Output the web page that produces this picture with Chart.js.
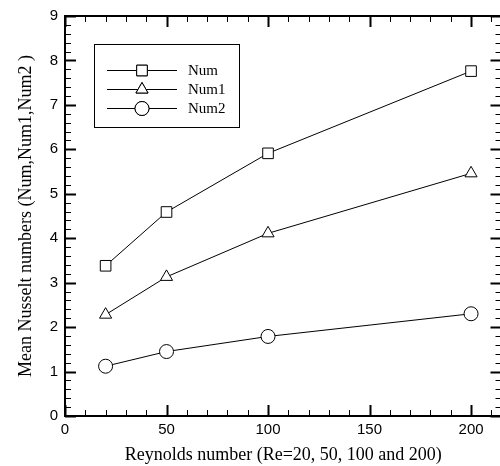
<!DOCTYPE html>
<html>
<head>
<meta charset="utf-8">
<script src="https://cdn.jsdelivr.net/npm/chart.js@4"></script>
<style>
  html, body { margin: 0; padding: 0; background: #fff; overflow: hidden; }
  #wrap { position: absolute; left: 0; top: 0; width: 510px; height: 466px; }
</style>
</head>
<body>
<div id="wrap"><canvas id="chart" width="510" height="466"></canvas></div>
<script>
// Données
const reynolds = [20, 50, 100, 200];
const num  = [3.38, 4.59, 5.91, 7.76];
const num1 = [2.28, 3.13, 4.11, 5.46];
const num2 = [1.12, 1.45, 1.79, 2.30];

const xTicks = [0, 50, 100, 150, 200];
const yTicks = [0, 1, 2, 3, 4, 5, 6, 7, 8, 9];

const seriesNames = ['Num', 'Num1', 'Num2'];
const seriesStyles = ['rect', 'triangle', 'circle'];

function makeDataset(label, values, style) {
    return {
        label: label,
        data: reynolds.map((x, i) => ({ x: x, y: values[i] })),
        borderColor: '#000',
        borderWidth: 1,
        pointStyle: style,
        pointRadius: style === 'rect' ? 7.5 : 7,
        pointBorderColor: '#000',
        pointBackgroundColor: '#fff',
        pointBorderWidth: 1,
        fill: false,
        tension: 0
    };
}

// Graduations intérieures sur les quatre côtés + cadre
const innerTicks = {
    id: 'innerTicks',
    afterDatasetsDraw(chart) {
        const { ctx, chartArea: a, scales } = chart;
        const xs = scales.x, ys = scales.y;
        ctx.save();
        ctx.strokeStyle = '#000';
        for (let v = 0; v <= 215; v += 10) {
            const px = Math.round(xs.getPixelForValue(v)) + 0.5;
            const major = v % 50 === 0;
            const len = major ? 11 : 6;
            ctx.lineWidth = major ? 2 : 1;
            ctx.beginPath();
            ctx.moveTo(px, a.bottom); ctx.lineTo(px, a.bottom - len);
            ctx.moveTo(px, a.top); ctx.lineTo(px, a.top + len);
            ctx.stroke();
        }
        for (let k = 0; k <= 45; k++) {
            const v = k / 5;
            const py = Math.round(ys.getPixelForValue(v)) + 0.5;
            const major = k % 5 === 0;
            const len = major ? 11 : 6;
            ctx.lineWidth = major ? 2 : 1;
            ctx.beginPath();
            ctx.moveTo(a.left, py); ctx.lineTo(a.left + len, py);
            ctx.moveTo(a.right, py); ctx.lineTo(a.right - len, py);
            ctx.stroke();
        }
        ctx.lineWidth = 2;
        ctx.strokeRect(a.left, a.top, a.right - a.left, a.bottom - a.top);
        ctx.restore();
    }
};

// Légende encadrée dans la zone du graphique
const boxLegend = {
    id: 'boxLegend',
    afterDraw(chart) {
        const ctx = chart.ctx;
        ctx.save();
        ctx.strokeStyle = '#000';
        ctx.lineWidth = 1;
        ctx.strokeRect(94.5, 44.5, 145, 83);
        const rows = [70, 89, 108];
        ctx.font = '15px "Liberation Serif", "Times New Roman", serif';
        ctx.textBaseline = 'middle';
        ctx.fillStyle = '#000';
        rows.forEach((y, i) => {
            ctx.beginPath();
            ctx.moveTo(107, y + 0.5); ctx.lineTo(177, y + 0.5);
            ctx.stroke();
            ctx.fillStyle = '#fff';
            Chart.helpers.drawPoint(ctx, {
                pointStyle: seriesStyles[i],
                radius: seriesStyles[i] === 'rect' ? 7.5 : 7,
                borderWidth: 1,
                rotation: 0
            }, 142, y + 0.5);
            ctx.fill();
            ctx.stroke();
            ctx.fillStyle = '#000';
            ctx.fillText(seriesNames[i], 188, y + 1);
        });
        ctx.restore();
    }
};

const sansFont = { family: '"Liberation Sans", Arial, sans-serif', size: 15 };
const serifFont = { family: '"Liberation Serif", "Times New Roman", serif', size: 18 };

new Chart(document.getElementById('chart').getContext('2d'), {
    type: 'line',
    data: {
        datasets: [
            makeDataset(seriesNames[0], num, seriesStyles[0]),
            makeDataset(seriesNames[1], num1, seriesStyles[1]),
            makeDataset(seriesNames[2], num2, seriesStyles[2])
        ]
    },
    options: {
        responsive: false,
        animation: false,
        events: [],
        layout: { padding: { top: 14, right: 7, left: 0, bottom: 0 } },
        plugins: { legend: { display: false }, tooltip: { enabled: false } },
        scales: {
            x: {
                type: 'linear',
                min: 0,
                max: 215,
                afterBuildTicks: (s) => { s.ticks = xTicks.map(v => ({ value: v })); },
                afterFit: (s) => { s.height = 50; },
                grid: { display: false, drawTicks: false },
                border: { display: true, color: '#000', width: 2 },
                ticks: { color: '#000', font: sansFont, padding: 5, maxRotation: 0 },
                title: {
                    display: true,
                    text: 'Reynolds number (Re=20, 50, 100 and 200)',
                    color: '#000',
                    font: serifFont,
                    padding: { top: 0, bottom: 0 }
                }
            },
            y: {
                type: 'linear',
                min: 0,
                max: 9,
                afterBuildTicks: (s) => { s.ticks = yTicks.map(v => ({ value: v })); },
                afterFit: (s) => { s.width = 65; },
                grid: { display: false, drawTicks: false },
                border: { display: true, color: '#000', width: 2 },
                ticks: { color: '#000', font: sansFont, padding: 7 },
                title: {
                    display: true,
                    text: 'Mean Nusselt numbers (Num,Num1,Num2 )',
                    color: '#000',
                    font: serifFont,
                    padding: { top: 15, bottom: 0 }
                }
            }
        }
    },
    plugins: [innerTicks, boxLegend]
});
</script>
</body>
</html>
